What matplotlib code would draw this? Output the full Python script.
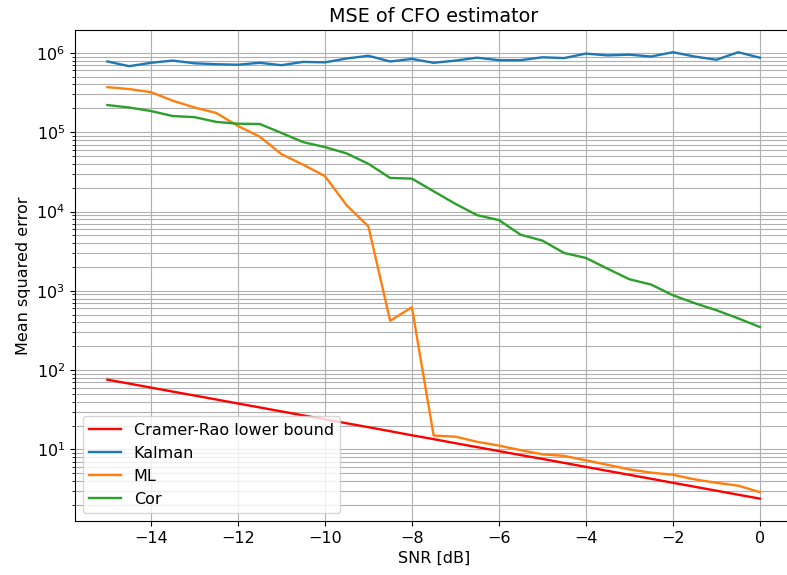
import numpy as np
import matplotlib
matplotlib.use("Agg")
import matplotlib.pyplot as plt

snr_db = np.arange(-15, 0.5, 0.5)
snr_ticks = [-14, -12, -10, -8, -6, -4, -2, 0]

crb = [75.9, 67.7, 60.3, 53.7, 47.9, 42.7, 38.0, 33.9, 30.2, 26.9, 24.0,
       21.4, 19.1, 17.0, 15.1, 13.5, 12.0, 10.7, 9.55, 8.5, 7.6, 6.77,
       6.03, 5.37, 4.79, 4.27, 3.8, 3.39, 3.02, 2.69, 2.4]

kalman = [7.8e5, 6.8e5, 7.5e5, 8.0e5, 7.4e5, 7.2e5, 7.1e5, 7.5e5, 7.0e5,
          7.7e5, 7.6e5, 8.5e5, 9.2e5, 7.8e5, 8.4e5, 7.5e5, 8.0e5, 8.7e5,
          8.1e5, 8.1e5, 8.8e5, 8.6e5, 9.8e5, 9.3e5, 9.5e5, 9.0e5, 1.02e6,
          9.0e5, 8.2e5, 1.02e6, 8.7e5]

ml = [3.7e5, 3.5e5, 3.2e5, 2.5e5, 2.05e5, 1.75e5, 1.2e5, 8.8e4, 5.3e4,
      3.9e4, 2.8e4, 1.2e4, 6.5e3, 420, 620, 15.0, 14.5, 12.5, 11.2, 9.8,
      8.7, 8.3, 7.3, 6.4, 5.6, 5.1, 4.8, 4.2, 3.8, 3.5, 2.9]

cor = [2.2e5, 2.05e5, 1.85e5, 1.6e5, 1.55e5, 1.35e5, 1.28e5, 1.27e5, 9.8e4,
       7.5e4, 6.5e4, 5.4e4, 4.0e4, 2.65e4, 2.6e4, 1.8e4, 1.25e4, 9.0e3,
       7.8e3, 5.1e3, 4.3e3, 3.0e3, 2.6e3, 1.9e3, 1.4e3, 1.2e3, 880, 700,
       570, 450, 350]

plt.rcParams["font.size"] = 11.5
plt.rcParams["lines.linewidth"] = 1.7

fig = plt.figure(figsize=(7.87, 5.75), dpi=100)
ax = fig.add_axes([0.095, 0.094, 0.912, 0.854])

ax.semilogy(snr_db, crb, color="red", label="Cramer-Rao lower bound")
ax.semilogy(snr_db, kalman, label="Kalman")
ax.semilogy(snr_db, ml, label="ML")
ax.semilogy(snr_db, cor, label="Cor")

ax.set_xticks(snr_ticks)
ax.grid(True, which="both")
ax.set_title("MSE of CFO estimator")
ax.set_xlabel("SNR [dB]")
ax.set_ylabel("Mean squared error")
ax.legend(loc="lower left")

fig.savefig("out.png", dpi=100)
